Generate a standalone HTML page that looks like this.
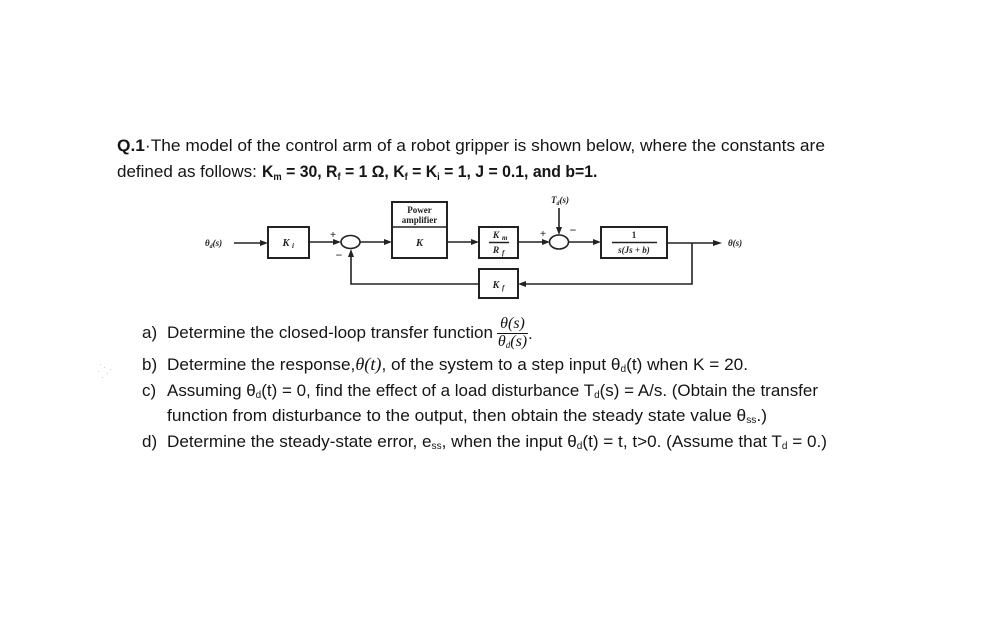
<!DOCTYPE html>
<html>
<head>
<meta charset="utf-8">
<style>
  html,body{margin:0;padding:0;background:#fff;}
  svg{display:block;}
  .t{font-family:"Liberation Sans",sans-serif;font-size:17px;fill:#151515;}
  .b{font-weight:bold;}
  .m{font-family:"Liberation Serif",serif;font-style:italic;font-size:16px;fill:#151515;}
  .d{font-family:"Liberation Serif",serif;font-weight:bold;font-style:italic;fill:#222;}
  .dn{font-family:"Liberation Serif",serif;font-weight:bold;fill:#222;}
  .ln{stroke:#222;stroke-width:1.6;fill:none;}
  .bx{stroke:#222;stroke-width:2;fill:#fff;}
  .ah{fill:#222;}
</style>
</head>
<body>
<svg width="1008" height="630" viewBox="0 0 1008 630" xmlns="http://www.w3.org/2000/svg">
  <rect width="1008" height="630" fill="#fff"/>

  <!-- Header text -->
  <text class="t" x="117" y="151" textLength="708" lengthAdjust="spacingAndGlyphs"><tspan class="b">Q.1</tspan>·The model of the control arm of a robot gripper is shown below, where the constants are</text>
  <text class="t" x="117" y="177">defined as follows:</text>
  <g transform="translate(262,177) scale(0.93,1)">
    <text class="t b" x="0" y="0" font-size="16.5">K<tspan font-size="10" dy="3">m</tspan><tspan dy="-3"> = 30, R</tspan><tspan font-size="10" dy="3">f</tspan><tspan dy="-3"> = 1 Ω, K</tspan><tspan font-size="10" dy="3">f</tspan><tspan dy="-3"> = K</tspan><tspan font-size="10" dy="3">i</tspan><tspan dy="-3"> = 1, J = 0.1, and b=1.</tspan></text>
  </g>

  <!-- Block diagram -->
  <text class="d" x="205" y="246" font-size="9">θ<tspan font-size="6" dy="2">d</tspan><tspan dy="-2">(s)</tspan></text>
  <line class="ln" x1="234" y1="243" x2="263" y2="243"/>
  <polygon class="ah" points="268,243 260,240 260,246"/>

  <rect class="bx" x="268" y="227" width="41" height="31"/>
  <text class="d" x="286" y="246" font-size="10.5" text-anchor="middle">K</text>
  <text class="d" x="292" y="248" font-size="7">i</text>

  <line class="ln" x1="309" y1="242" x2="336" y2="242"/>
  <polygon class="ah" points="341,242 333,239 333,245"/>

  <ellipse class="ln" cx="350.5" cy="242" rx="9.5" ry="6.5"/>
  <text class="dn" x="333" y="238" font-size="11" text-anchor="middle">+</text>
  <text class="dn" x="339" y="259" font-size="12" text-anchor="middle">−</text>

  <line class="ln" x1="360" y1="242" x2="387" y2="242"/>
  <polygon class="ah" points="392,242 384,239 384,245"/>

  <rect class="bx" x="392" y="202" width="55" height="56"/>
  <line class="ln" x1="392" y1="227" x2="447" y2="227" stroke-width="1.4"/>
  <text class="dn" x="419.5" y="213" font-size="9" text-anchor="middle">Power</text>
  <text class="dn" x="419.5" y="223" font-size="9" text-anchor="middle">amplifier</text>
  <text class="d" x="419.5" y="246" font-size="10.5" text-anchor="middle">K</text>

  <line class="ln" x1="447" y1="242" x2="474" y2="242"/>
  <polygon class="ah" points="479,242 471,239 471,245"/>

  <rect class="bx" x="479" y="227" width="39" height="31"/>
  <text class="d" x="496" y="238" font-size="9.5" text-anchor="middle">K</text>
  <text class="d" x="502" y="240" font-size="7">m</text>
  <line class="ln" x1="489" y1="242.5" x2="509" y2="242.5" stroke-width="1"/>
  <text class="d" x="496" y="253" font-size="9.5" text-anchor="middle">R</text>
  <text class="d" x="502" y="255" font-size="7">f</text>

  <line class="ln" x1="518" y1="242" x2="545" y2="242"/>
  <polygon class="ah" points="550,242 542,239 542,245"/>

  <ellipse class="ln" cx="559" cy="242" rx="9.5" ry="7"/>
  <text class="dn" x="543" y="237" font-size="11" text-anchor="middle">+</text>
  <text class="dn" x="573" y="234" font-size="12" text-anchor="middle">−</text>
  <text class="d" x="560" y="203" font-size="9" text-anchor="middle">T<tspan font-size="6" dy="2">d</tspan><tspan dy="-2">(s)</tspan></text>
  <line class="ln" x1="559" y1="208" x2="559" y2="230"/>
  <polygon class="ah" points="559,235 556,227 562,227"/>

  <line class="ln" x1="568" y1="242" x2="596" y2="242"/>
  <polygon class="ah" points="601,242 593,239 593,245"/>

  <rect class="bx" x="601" y="227" width="66" height="31"/>
  <text class="dn" x="634" y="238" font-size="9" text-anchor="middle">1</text>
  <line class="ln" x1="612" y1="242.5" x2="657" y2="242.5" stroke-width="1"/>
  <text class="d" x="634" y="253" font-size="9" text-anchor="middle">s(Js + b)</text>

  <line class="ln" x1="667" y1="243" x2="716" y2="243"/>
  <polygon class="ah" points="722,243 713,240 713,246"/>
  <text class="d" x="728" y="246" font-size="9">θ(s)</text>

  <polyline class="ln" points="692,243 692,284 524,284" stroke-width="2"/>
  <polygon class="ah" points="518,284 526,281 526,287"/>
  <rect class="bx" x="479" y="269" width="39" height="29"/>
  <text class="d" x="496" y="288" font-size="10" text-anchor="middle">K</text>
  <text class="d" x="502" y="290" font-size="7">f</text>
  <polyline class="ln" points="479,284 351,284 351,255" stroke-width="2"/>
  <polygon class="ah" points="351,249 348,257 354,257"/>

  <!-- Questions -->
  <text class="t" x="142" y="338">a)</text>
  <text class="t" x="167" y="338" textLength="326" lengthAdjust="spacingAndGlyphs">Determine the closed-loop transfer function</text>
  <text class="m" x="512.5" y="328" font-size="13" text-anchor="middle">θ(s)</text>
  <line x1="497" y1="333.5" x2="528" y2="333.5" stroke="#151515" stroke-width="1"/>
  <text class="m" x="512.5" y="346" font-size="13" text-anchor="middle">θ<tspan font-size="9" dy="2">d</tspan><tspan dy="-2">(s)</tspan></text>
  <text class="t" x="528" y="339">.</text>

  <text class="t" x="142" y="370">b)</text>
  <text class="t" x="167" y="370" textLength="581" lengthAdjust="spacingAndGlyphs">Determine the response,<tspan font-family="Liberation Serif" font-style="italic" font-size="18">θ(t)</tspan>, of the system to a step input θ<tspan font-size="10" dy="2">d</tspan><tspan dy="-2">(t) when K = 20.</tspan></text>

  <text class="t" x="142" y="396">c)</text>
  <text class="t" x="167" y="396" textLength="651" lengthAdjust="spacingAndGlyphs">Assuming θ<tspan font-size="10" dy="2">d</tspan><tspan dy="-2">(t) = 0, find the effect of a load disturbance T</tspan><tspan font-size="10" dy="2">d</tspan><tspan dy="-2">(s) = A/s. (Obtain the transfer</tspan></text>
  <text class="t" x="167" y="421" textLength="600" lengthAdjust="spacingAndGlyphs">function from disturbance to the output, then obtain the steady state value θ<tspan font-size="10" dy="2">ss</tspan><tspan dy="-2">.)</tspan></text>

  <text class="t" x="142" y="447">d)</text>
  <text class="t" x="167" y="447" textLength="660" lengthAdjust="spacingAndGlyphs">Determine the steady-state error, e<tspan font-size="10" dy="2">ss</tspan><tspan dy="-2">, when the input θ</tspan><tspan font-size="10" dy="2">d</tspan><tspan dy="-2">(t) = t, t&gt;0. (Assume that T</tspan><tspan font-size="10" dy="2">d</tspan><tspan dy="-2"> = 0.)</tspan></text>

  <g fill="#ccc">
    <rect x="100" y="364" width="1" height="1"/>
    <rect x="104" y="367" width="1" height="1"/>
    <rect x="98" y="371" width="1" height="1"/>
    <rect x="107" y="373" width="1" height="1"/>
    <rect x="102" y="377" width="1" height="1"/>
    <rect x="110" y="369" width="1" height="1"/>
  </g>
</svg>
</body>
</html>
